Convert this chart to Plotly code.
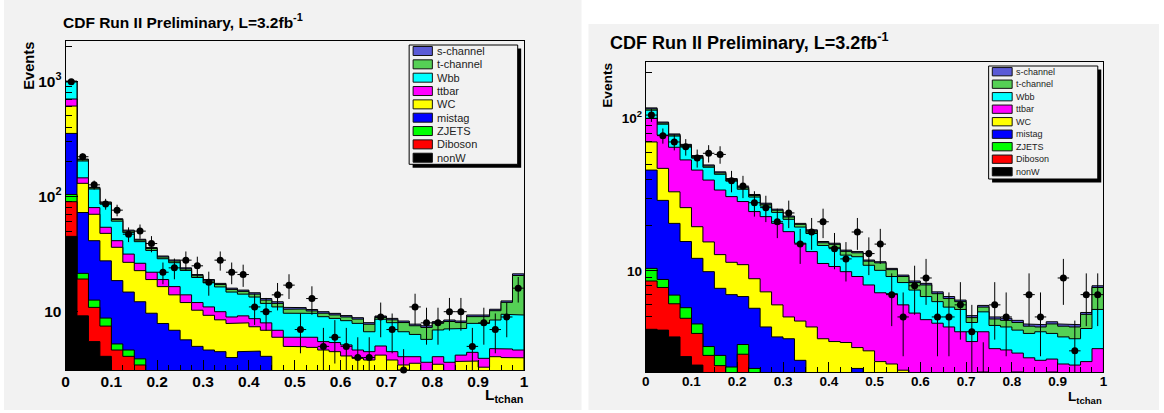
import numpy as np
import plotly.graph_objects as go

W, H = 1164, 413

bin_edges = np.linspace(0.0, 1.0, 41)
bin_centers = 0.5 * (bin_edges[:-1] + bin_edges[1:])

names = ["nonW", "Diboson", "ZJETS", "mistag", "WC", "ttbar", "Wbb", "t-channel", "s-channel"]
colors = ["#000000", "#ff0000", "#00ff00", "#0000ff", "#ffff00", "#ff00ff", "#00ffff", "#55d055", "#5a5ad6"]

# ---------------- left panel values (per bin, 40 bins of 0.025) ----------------
L_nonW = [45, 9.2, 5.5, 4.1, 1.5, 1.0, 0.8, 0.5, 0.4, 0.3, 0.3, 0.2, 0.2, 0.2, 0.1, 0.1, 0.1, 0.1, 0.1, 0.1,
          0.05, 0.05, 0.05, 0.05, 0.05, 0.05, 0.05, 0.05, 0.05, 0.05, 0.05, 0.05, 0.05, 0.05, 0.05, 0.05, 0.05, 0.05, 0.05, 0.05]
L_dib = [45, 10, 5.4, 3.4, 3.15, 3.1, 2.65, 1.5, 1.2, 1.0, 0.7, 0.6, 0.5, 0.4, 0.4, 0.3, 0.3, 0.2, 0.2, 0.2,
         0.15, 0.15, 0.15, 0.15, 0.15, 0.15, 0.15, 0.15, 0.15, 0.15, 0.15, 0.15, 0.15, 0.15, 0.15, 0.15, 0.15, 0.15, 0.15, 0.15]
L_z = [14, 2.3, 1.7, 1.3, 0.6, 0.55, 0.45, 0.4, 0.3, 0.2, 0.2, 0.2, 0.2, 0.2, 0.2, 0.2, 0.1, 0.1, 0.1, 0.1,
       0.1, 0.1, 0.1, 0.1, 0.1, 0.1, 0.1, 0.1, 0.1, 0.1, 0.1, 0.1, 0.1, 0.1, 0.1, 0.1, 0.1, 0.1, 0.1, 0.1]
L_mis = [248, 51, 28.7, 18.8, 13.35, 10.15, 8.3, 7.3, 6.0, 5.4, 4.5, 4.0, 3.75, 3.7, 3.3, 3.9, 4.05, 3.7, 1.8, 1.6,
         1.6, 1.5, 1.5, 1.4, 1.4, 1.3, 1.3, 1.2, 1.2, 1.1, 1.1, 1.0, 1.0, 1.0, 0.9, 0.9, 0.9, 0.8, 0.8, 0.8]
L_wc = [256, 57.4, 28.7, 20.2, 17.6, 12.0, 10.5, 9.3, 8.6, 7.1, 6.3, 5.3, 4.65, 4.0, 3.9, 3.5, 2.85, 2.8, 3.8, 3.0,
        3.07, 3.1, 2.85, 2.8, 2.43, 2.34, 2.21, 2.7, 2.31, 2.05, 2.17, 1.3, 2.2, 1.5, 2.5, 2.53, 2.1, 2.97, 2.9, 2.88]
L_tt = [92, 15, 10, 6.2, 5.1, 4.8, 3.6, 3.0, 2.5, 2.5, 2.0, 1.7, 1.7, 1.5, 1.1, 1.2, 1.3, 1.1, 0.9, 1.0,
        1.1, 1.1, 0.85, 0.9, 1.02, 0.71, 0.69, 0.84, 0.69, 0.62, 0.5, 1.04, 0.57, 0.84, 0.5, 0.71, 0.64, 0.71, 0.75, 0.67]
L_wbb = [285, 58, 36, 32, 19.7, 16.9, 14.2, 12.0, 9.8, 10.1, 8.8, 7.8, 6.8, 6.4, 5.8, 5.0, 4.7, 3.8, 4.1, 3.7,
         3.73, 3.67, 3.55, 3.35, 3.21, 3.27, 2.2, 3.56, 3.53, 2.63, 2.28, 2.11, 2.87, 3.44, 2.95, 3.48, 3.98, 3.69, 4.75, 4.71]
L_tch = [10, 5, 2.5, 2, 2, 1.5, 1.3, 1.3, 1.0, 0.9, 0.7, 0.7, 0.7, 0.8, 0.8, 0.8, 0.8, 0.8, 0.8, 0.8,
         0.75, 0.48, 0.65, 0.62, 0.64, 0.7, 1.08, 0.32, 0.47, 1.35, 1.2, 1.55, 1.01, 1.14, 0.9, 1.14, 1.14, 1.73, 2.55, 11.24]
L_sch = [5, 3, 1.5, 1.5, 1, 1, 0.7, 0.7, 0.6, 0.6, 0.5, 0.5, 0.5, 0.4, 0.4, 0.4, 0.4, 0.4, 0.4, 0.4,
         0.3, 0.3, 0.3, 0.3, 0.25, 0.25, 0.25, 0.25, 0.25, 0.25, 0.25, 0.25, 0.25, 0.25, 0.25, 0.3, 0.3, 0.3, 0.35, 0.7]
L_data = [990, 221, 126, 86, 76, 47, 50, 39, 22, 24, 28, 25, 18, 28, 22, 21, 11, 10, 14, 17,
          7, 13, 5, 6, 5, 4, 4, 9, 7, 3, 11, 8, 8, 10, 10, 5, 8, 7, 9, 16]

# ---------------- right panel values ----------------
R_nonW = [4.15, 4.1, 3.7, 2.75, 2.42, 1.5, 1.2, 0.9, 0.7, 0.5, 0.3, 0.3, 0.2, 0.2, 0.2, 0.2, 0.1, 0.1, 0.1, 0.1,
          0.1, 0.1, 0.1, 0.1, 0.1, 0.1, 0.1, 0.1, 0.1, 0.1, 0.1, 0.1, 0.1, 0.1, 0.1, 0.1, 0.1, 0.1, 0.1, 0.1]
R_dib = [4.45, 3.7, 2.4, 2.15, 1.48, 1.3, 1.2, 1.1, 2.15, 1.0, 0.7, 0.6, 0.6, 0.5, 0.4, 0.4, 0.4, 0.4, 0.4, 0.3,
         0.3, 0.3, 0.2, 0.2, 0.2, 0.2, 0.2, 0.1, 0.1, 0.1, 0.1, 0.1, 0.1, 0.1, 0.1, 0.1, 0.1, 0.1, 0.1, 0.1]
R_z = [1.8, 1.0, 0.85, 0.85, 0.6, 0.4, 0.4, 0.35, 0.45, 0.8, 0.3, 0.2, 0.2, 0.2, 0.2, 0.2, 0.2, 0.2, 0.2, 0.2,
       0.2, 0.1, 0.2, 0.2, 0.1, 0.1, 0.1, 0.2, 0.1, 0.1, 0.1, 0.1, 0.1, 0.1, 0.1, 0.1, 0.1, 0.1, 0.1, 0.1]
R_mis = [35.4, 20.2, 13.55, 9.85, 7.6, 6.7, 4.9, 4.65, 3.5, 3.4, 3.0, 2.6, 2.6, 1.7, 1.2, 1.1, 1.1, 1.1, 1.6, 0.9,
         0.8, 0.85, 0.8, 0.8, 0.85, 0.8, 0.8, 0.75, 0.8, 0.8, 0.75, 0.7, 0.7, 0.65, 0.65, 0.6, 0.6, 0.6, 0.55, 0.55]
R_wc = [24.2, 18, 12.5, 10.4, 7.4, 5.6, 5.1, 4.4, 4.2, 3.2, 3.0, 2.3, 1.4, 2.1, 2.3, 1.7, 1.65, 1.6, 0.85, 1.5,
        1.15, 1.11, 0.94, 0.65, 0.6, 0.55, 0.45, 0.45, 0.4, 0.35, 0.35, 0.35, 0.3, 0.35, 0.3, 0.3, 0.3, 0.25, 0.25, 0.25]
R_tt = [30, 30.6, 31.6, 27.4, 26.3, 23.9, 21.1, 19.3, 17.5, 15.6, 15.4, 14.5, 13.1, 10.5, 9.1, 7.6, 7.25, 6.5, 6.05, 5.1,
        4.65, 4.64, 3.76, 3.35, 2.95, 2.8, 2.65, 2.4, 1.95, 2.55, 1.7, 1.69, 1.6, 1.4, 1.35, 1.45, 1.26, 1.27, 1.45, 2.0]
R_wbb = [13, 13.9, 11.9, 11.6, 9.2, 8.4, 9.1, 8.1, 5.8, 6.0, 3.9, 3.7, 3.7, 4.2, 4.2, 3.5, 3.5, 2.8, 3.2, 2.8,
         2.9, 2.1, 2.4, 2.2, 2.0, 1.75, 1.5, 1.6, 1.15, 1.4, 1.3, 1.26, 1.2, 1.2, 1.4, 1.25, 1.24, 1.18, 1.65, 2.5]
R_tch = [2.2, 1.6, 1.3, 1.5, 1.1, 0.9, 0.9, 0.9, 0.75, 0.7, 0.75, 0.8, 0.75, 0.8, 0.7, 0.6, 0.75, 0.75, 0.75, 0.7,
         1.2, 1.0, 0.8, 0.9, 1.3, 0.8, 0.8, 0.7, 0.35, 0.4, 0.45, 0.45, 0.5, 0.45, 0.3, 0.6, 0.65, 0.7, 1.0, 2.2]
R_sch = [1.8, 1.4, 1.2, 1.0, 0.9, 0.8, 0.7, 0.6, 0.55, 0.5, 0.45, 0.4, 0.35, 0.3, 0.3, 0.3, 0.25, 0.25, 0.25, 0.2,
         0.2, 0.2, 0.2, 0.2, 0.2, 0.2, 0.2, 0.15, 0.15, 0.15, 0.15, 0.15, 0.15, 0.15, 0.15, 0.15, 0.15, 0.15, 0.15, 0.2]
R_data = [105, 77, 70, 65, 55, 59, 58, 39, 36, 28, 26, 21, 24, 15, 18, 21, 14, 12, 18, 13,
          15, 7, 5, 8, 9, 5, 5, 6, 4, 2, 6, 5, 1, 7, 5, 1, 9, 3, 7, 7]

x_tick_vals = [0, 0.1, 0.2, 0.3, 0.4, 0.5, 0.6, 0.7, 0.8, 0.9, 1.0]
x_tick_text = ["0", "0.1", "0.2", "0.3", "0.4", "0.5", "0.6", "0.7", "0.8", "0.9", "1"]
title_text = "CDF Run II Preliminary, L=3.2fb<sup>-1</sup>"


def px(x):
    return x / W


def py(y):
    return 1 - y / H


FONT = "Liberation Sans"

panels = [
    dict(xa="x", ya="y", comps=[L_nonW, L_dib, L_z, L_mis, L_wc, L_tt, L_wbb, L_tch, L_sch], data=L_data,
         xpix=(62, 524), ypix=(41, 370), yr=(3.12, 2230),
         ytv=[10, 100, 1000], ytt=["10", "10<sup>2</sup>", "10<sup>3</sup>"],
         yminor=[4, 5, 6, 7, 8, 9, 20, 30, 40, 50, 60, 70, 80, 90, 200, 300, 400, 500, 600, 700, 800, 900, 2000],
         tickfs=15.5, canvas=(0, 0, 582, 410),
         title=dict(x=58, y=21, size=15.5), ytitle=dict(x=25, y=66, size=14.7),
         xtitle=dict(x=524, y=385, size=15.5),
         legend=dict(box=(408.3, 45, 517.7, 164.3), row0=51, dy=13.34, bx=(412.3, 431.7), bh=9, tx=435, fs=11, sh=3.5)),
    dict(xa="x2", ya="y2", comps=[R_nonW, R_dib, R_z, R_mis, R_wc, R_tt, R_wbb, R_tch, R_sch], data=R_data,
         xpix=(646.7, 1108), ypix=(62.3, 372), yr=(2.18, 232.7),
         ytv=[10, 100], ytt=["10", "10<sup>2</sup>"],
         yminor=[3, 4, 5, 6, 7, 8, 9, 20, 30, 40, 50, 60, 70, 80, 90, 200],
         tickfs=13.5, canvas=(589, 24, 1164, 410),
         title=dict(x=610, y=42, size=18), ytitle=dict(x=608, y=85.5, size=13.7),
         xtitle=dict(x=1108, y=388, size=13.6),
         legend=dict(box=(992.3, 66, 1102.3, 179), row0=71.7, dy=12.5, bx=(996, 1016), bh=8.3, tx=1019, fs=9, sh=3.5)),
]

fig = go.Figure()
shapes = []
annotations = []
layout_axes = {}

for i, p in enumerate(panels):
    stack = np.array(p["comps"], dtype=float)
    cum = np.cumsum(stack, axis=0)
    floor = p["yr"][0] / 100.0
    xs = np.concatenate([np.repeat(bin_edges, 2)[1:-1], [1.0, 0.0]])
    for k in reversed(range(len(names))):
        ys = np.concatenate([np.repeat(cum[k], 2), [floor, floor]])
        fig.add_trace(go.Scatter(x=xs, y=ys, mode="lines", fill="toself", fillcolor=colors[k],
                                 line=dict(color="black", width=1), xaxis=p["xa"], yaxis=p["ya"],
                                 hoverinfo="skip", showlegend=False, name=names[k]))
    d = np.array(p["data"], dtype=float)
    err = np.sqrt(d)
    ymin = p["yr"][0]
    shown = np.maximum(d, ymin)
    up = np.clip(d + err - shown, 0, None)
    down = np.clip(np.minimum(shown - (d - err), shown - ymin), 0, None)
    fig.add_trace(go.Scatter(x=bin_centers, y=shown, mode="markers",
                             marker=dict(color="black", size=7),
                             error_y=dict(type="data", symmetric=False, array=up, arrayminus=down,
                                          color="black", thickness=1, width=0),
                             error_x=dict(type="constant", value=0.0125, color="black", thickness=1, width=0),
                             cliponaxis=False, xaxis=p["xa"], yaxis=p["ya"], showlegend=False, name="data"))

    xkey = "xaxis" if i == 0 else "xaxis2"
    ykey = "yaxis" if i == 0 else "yaxis2"
    tickfont = dict(family=FONT, size=p["tickfs"], color="black", weight="bold")
    layout_axes[xkey] = dict(domain=[px(p["xpix"][0]), px(p["xpix"][1])], anchor=p["ya"], range=[0, 1],
                             showline=True, linecolor="black", linewidth=1, mirror=True,
                             ticks="inside", ticklen=10, tickwidth=1, tickcolor="black",
                             tickmode="array", tickvals=x_tick_vals, ticktext=x_tick_text, tickfont=tickfont,
                             ticklabelstandoff=-3,
                             minor=dict(ticks="inside", ticklen=5, tickcolor="black", tick0=0, dtick=0.025),
                             showgrid=False, zeroline=False, fixedrange=True)
    layout_axes[ykey] = dict(domain=[py(p["ypix"][1]), py(p["ypix"][0])], anchor=p["xa"], type="log",
                             range=[np.log10(p["yr"][0]), np.log10(p["yr"][1])],
                             showline=True, linecolor="black", linewidth=1, mirror=True,
                             ticks="inside", ticklen=12, tickwidth=1, tickcolor="black",
                             tickmode="array", tickvals=p["ytv"], ticktext=p["ytt"], tickfont=tickfont,
                             minor=dict(ticks="inside", ticklen=6, tickcolor="black", tickmode="array",
                                        tickvals=p["yminor"]),
                             showgrid=False, zeroline=False, fixedrange=True)

    # canvas background
    cx0, cy0, cx1, cy1 = p["canvas"]
    shapes.append(dict(type="rect", xref="paper", yref="paper", x0=px(cx0), x1=px(cx1), y0=py(cy1), y1=py(cy0),
                       fillcolor="#f2f2f2", line=dict(width=0), layer="below"))

    # titles
    t = p["title"]
    annotations.append(dict(xref="paper", yref="paper", x=px(t["x"]), y=py(t["y"]), xanchor="left", yanchor="middle",
                            text=title_text, showarrow=False, borderpad=0,
                            font=dict(family=FONT, size=t["size"], color="black", weight="bold")))
    t = p["ytitle"]
    annotations.append(dict(xref="paper", yref="paper", x=px(t["x"]), y=py(t["y"]), xanchor="center", yanchor="middle",
                            text="Events", textangle=-90, showarrow=False, borderpad=0,
                            font=dict(family=FONT, size=t["size"], color="black", weight="bold")))
    t = p["xtitle"]
    annotations.append(dict(xref="paper", yref="paper", x=px(t["x"]), y=py(t["y"]), xanchor="right", yanchor="top",
                            text="L<sub>tchan</sub>", showarrow=False, borderpad=0,
                            font=dict(family=FONT, size=t["size"], color="black", weight="bold")))

    # legend
    lg = p["legend"]
    bx0, by0, bx1, by1 = lg["box"]
    sh = lg["sh"]
    shapes.append(dict(type="rect", xref="paper", yref="paper", x0=px(bx0 + sh), x1=px(bx1 + sh),
                       y0=py(by1 + sh), y1=py(by0 + sh), fillcolor="black", line=dict(width=0)))
    shapes.append(dict(type="rect", xref="paper", yref="paper", x0=px(bx0), x1=px(bx1),
                       y0=py(by1), y1=py(by0), fillcolor="#f2f2f2", line=dict(color="black", width=1)))
    legend_order = list(reversed(range(len(names))))
    for r, k in enumerate(legend_order):
        yc = lg["row0"] + r * lg["dy"]
        shapes.append(dict(type="rect", xref="paper", yref="paper", x0=px(lg["bx"][0]), x1=px(lg["bx"][1]),
                           y0=py(yc + lg["bh"] / 2), y1=py(yc - lg["bh"] / 2), fillcolor=colors[k],
                           line=dict(color="#111111", width=1)))
        annotations.append(dict(xref="paper", yref="paper", x=px(lg["tx"]), y=py(yc), xanchor="left", yanchor="middle",
                                text=names[k], showarrow=False, borderpad=0,
                                font=dict(family=FONT, size=lg["fs"], color="#222222")))

fig.update_layout(width=W, height=H, margin=dict(l=0, r=0, t=0, b=0),
                  paper_bgcolor="white", plot_bgcolor="rgba(0,0,0,0)",
                  showlegend=False, shapes=shapes, annotations=annotations, **layout_axes)

fig.write_html("out.html")
